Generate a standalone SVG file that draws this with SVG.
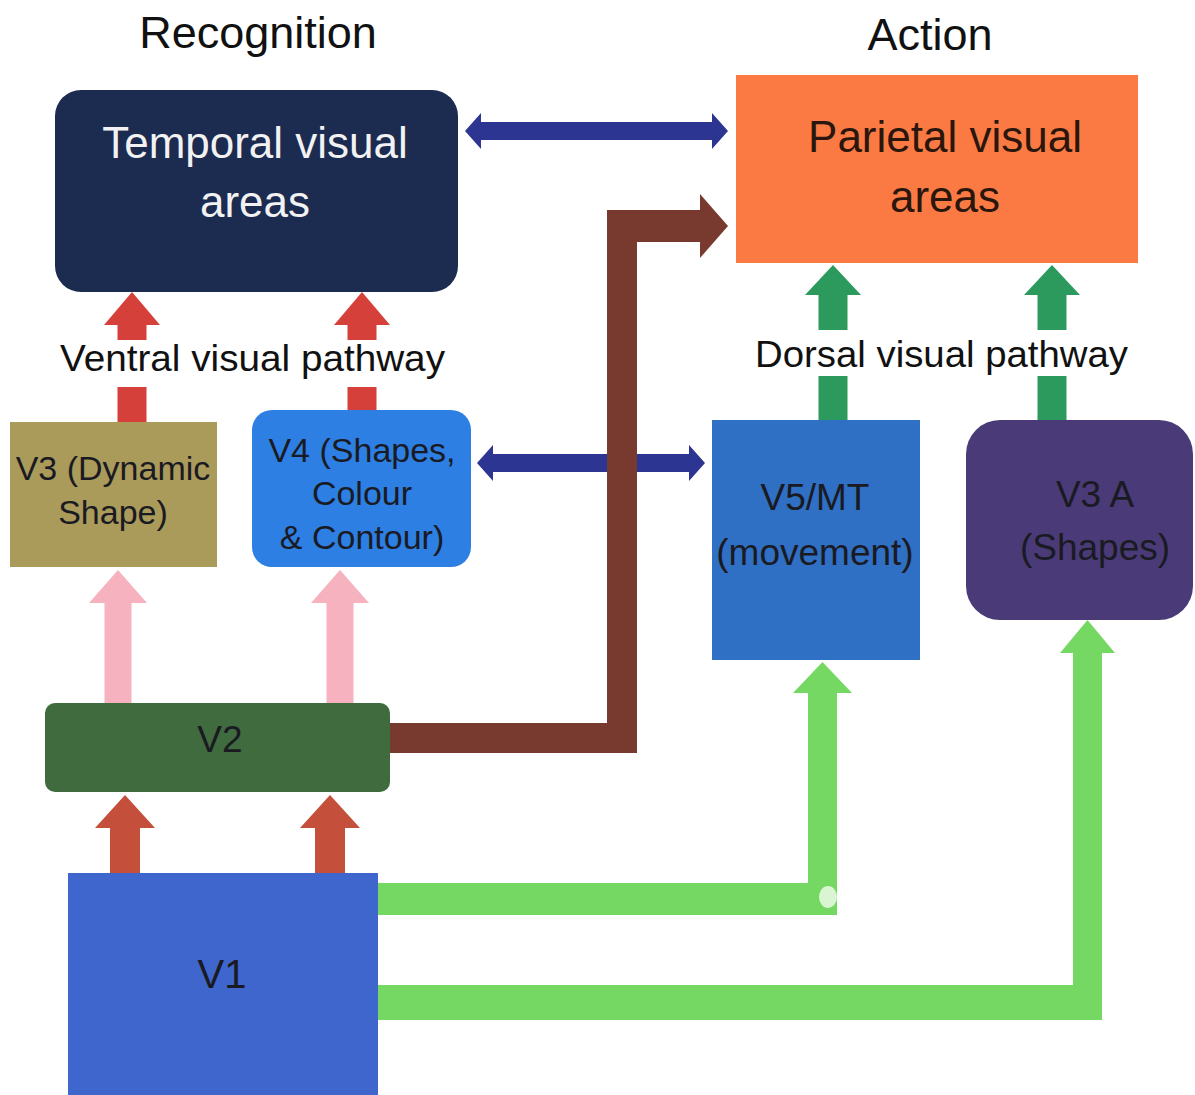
<svg xmlns="http://www.w3.org/2000/svg" width="1195" height="1095" viewBox="0 0 1195 1095">
  <style>
    .t { font-family: "Liberation Sans", Arial, sans-serif; text-anchor: middle; }
    .head { font-size: 45px; fill: #111; }
    .big { font-size: 44px; }
    .lbl { font-size: 34px; fill: #1a1a22; }
    .lbl2 { font-size: 37px; fill: #1a1a22; }
    .path { font-size: 37px; fill: #111; }
  </style>
  <rect width="1195" height="1095" fill="#ffffff"/>

  <!-- headings -->
  <text class="t head" x="258" y="48">Recognition</text>
  <text class="t head" x="930" y="50">Action</text>

  <!-- nodes -->
  <g id="temporal">
    <rect x="55" y="90" width="403" height="202" rx="26" fill="#1c2b50"/>
    <text class="t big" x="255" y="158" fill="#f2f2f2">Temporal visual</text>
    <text class="t big" x="255" y="217" fill="#f2f2f2">areas</text>
  </g>
  <g id="parietal">
    <rect x="736" y="75" width="402" height="188" fill="#fb7a44"/>
    <text class="t big" x="945" y="152" fill="#2a160c">Parietal visual</text>
    <text class="t big" x="945" y="212" fill="#2a160c">areas</text>
  </g>
  <g id="v3">
    <rect x="10" y="422" width="207" height="145" fill="#aa9b5b"/>
    <text class="t lbl" x="113" y="480">V3 (Dynamic</text>
    <text class="t lbl" x="113" y="524">Shape)</text>
  </g>
  <g id="v4">
    <rect x="252" y="410" width="219" height="157" rx="20" fill="#2d7fe3"/>
    <text class="t lbl" x="362" y="462">V4 (Shapes,</text>
    <text class="t lbl" x="362" y="505">Colour</text>
    <text class="t lbl" x="362" y="549">&amp; Contour)</text>
  </g>
  <g id="v5mt">
    <rect x="712" y="420" width="208" height="240" fill="#2f6fc4"/>
    <text class="t lbl2" x="815" y="510">V5/MT</text>
    <text class="t lbl2" x="815" y="565">(movement)</text>
  </g>
  <g id="v3a">
    <rect x="966" y="420" width="227" height="200" rx="34" fill="#4a3b78"/>
    <text class="t lbl2" x="1095" y="507">V3 A</text>
    <text class="t lbl2" x="1095" y="560">(Shapes)</text>
  </g>
  <g id="v2">
    <rect x="45" y="703" width="345" height="89" rx="10" fill="#3f6b3f"/>
    <text class="t lbl2" x="220" y="752">V2</text>
  </g>
  <g id="v1">
    <rect x="68" y="873" width="310" height="222" fill="#3e66cc"/>
    <text class="t" x="222" y="988" font-size="40" fill="#1a1a22">V1</text>
  </g>

  <!-- connectors -->
  <g id="connectors">
    <!-- Temporal <-> Parietal -->
    <polygon fill="#2c3592" points="465,131 481,113 481,122 712,122 712,113 728,131 712,149 712,140 481,140 481,149"/>
    <!-- V4 <-> V5/MT -->
    <polygon fill="#2c3592" points="477,463 493,445 493,454 689,454 689,445 705,463 689,481 689,472 493,472 493,481"/>
    <!-- V2 -> Parietal (brown) -->
    <polygon fill="#783a2e" points="390,723 607,723 607,210 700,210 700,194 728,226 700,258 700,242 637,242 637,753 390,753"/>
    <!-- V3 -> Temporal -->
    <polygon fill="#d6403a" points="117.5,422 117.5,325 104,325 132,292 160,325 146.5,325 146.5,422"/>
    <!-- V4 -> Temporal -->
    <polygon fill="#d6403a" points="347.5,410 347.5,325 334,325 362,292 390,325 376.5,325 376.5,410"/>
    <!-- V5 -> Parietal -->
    <polygon fill="#2b9a5c" points="818.5,420 818.5,295 805,295 833,265 861,295 847.5,295 847.5,420"/>
    <!-- V3A -> Parietal -->
    <polygon fill="#2b9a5c" points="1037.5,420 1037.5,295 1024,295 1052,265 1080,295 1066.5,295 1066.5,420"/>
    <!-- V2 -> V3 (pink) -->
    <polygon fill="#f7b2bf" points="104.5,703 104.5,603 89,603 118,570 147,603 131.5,603 131.5,703"/>
    <!-- V2 -> V4 (pink) -->
    <polygon fill="#f7b2bf" points="326.5,703 326.5,603 311,603 340,570 369,603 353.5,603 353.5,703"/>
    <!-- V1 -> V2 -->
    <polygon fill="#c44f3a" points="110,873 110,828 95,828 125,795 155,828 140,828 140,873"/>
    <polygon fill="#c44f3a" points="315,873 315,828 300,828 330,795 360,828 345,828 345,873"/>
    <!-- V1 -> V5/MT (light green) -->
    <polygon fill="#74d862" points="378,883 808,883 808,693 793,693 822.5,662 852,693 837,693 837,915 378,915"/>
    <ellipse cx="828" cy="897" rx="9" ry="11" fill="#d9f5d2"/>
    <!-- V1 -> V3A (light green) -->
    <polygon fill="#74d862" points="378,985 1073,985 1073,653 1060,653 1087.5,620 1115,653 1102,653 1102,1020 378,1020"/>
  </g>

  <!-- pathway labels -->
  <g id="ventral-label">
    <rect x="55" y="340" width="395" height="47" fill="#ffffff"/>
    <text class="path" x="60" y="371" text-anchor="start" style="text-anchor:start" font-family="Liberation Sans, Arial, sans-serif" textLength="385" lengthAdjust="spacingAndGlyphs">Ventral visual pathway</text>
  </g>
  <g id="dorsal-label">
    <rect x="750" y="330" width="385" height="46" fill="#ffffff"/>
    <text class="path" x="755" y="367" font-family="Liberation Sans, Arial, sans-serif" textLength="373" lengthAdjust="spacingAndGlyphs">Dorsal visual pathway</text>
  </g>
</svg>
